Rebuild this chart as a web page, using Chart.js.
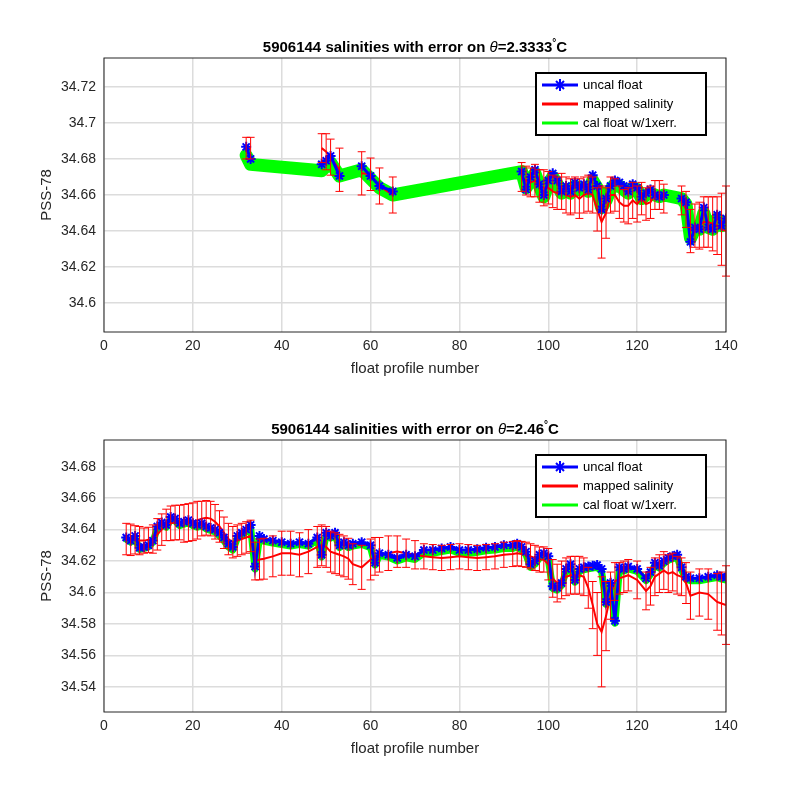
<!DOCTYPE html>
<html>
<head>
<meta charset="utf-8">
<script src="https://cdn.jsdelivr.net/npm/chart.js@4"></script>
<style>
  body { margin: 0; background: #fff; }
  .wrap { position: absolute; left: 0; width: 800px; height: 400px; }
</style>
</head>
<body>
<div class="wrap" style="top:0"><canvas id="top"></canvas></div>
<div class="wrap" style="top:400px"><canvas id="bottom"></canvas></div>
<script>
// ---- top panel: theta = 2.3333 C ----
const p1 = [32,33,49,50,51,53,58,60,62,65,
  94,95,96,97,98,99,100,101,102,103,104,105,106,107,108,109,110,111,112,113,114,115,116,117,118,119,120,121,122,123,124,125,126,
  130,131,132,133,134,135,136,137,138,139,140];
const b1 = [34.6867,34.680,34.677,34.679,34.6817,34.6706,34.676,34.6706,34.665,34.662,
  34.673,34.663,34.670,34.674,34.666,34.660,34.668,34.672,34.668,34.662,34.665,34.662,34.667,34.664,34.666,34.663,34.671,34.665,34.652,34.658,34.665,34.668,34.667,34.665,34.662,34.666,34.664,34.659,34.661,34.663,34.660,34.659,34.660,
  34.658,34.656,34.634,34.642,34.641,34.653,34.642,34.641,34.649,34.643,34.647];
const m1 = [34.686,34.686,34.686,34.684,34.681,34.674,34.672,34.6715,34.665,34.660,
  34.670,34.668,34.667,34.668,34.665,34.664,34.664,34.662,34.661,34.662,34.660,34.659,34.660,34.658,34.660,34.661,34.660,34.652,34.645,34.650,34.660,34.660,34.656,34.654,34.654,34.657,34.655,34.658,34.655,34.656,34.660,34.660,34.658,
  34.657,34.652,34.640,34.643,34.643,34.645,34.645,34.644,34.643,34.641,34.640];
const c1 = [34.682,34.677,34.6735,34.676,34.678,34.6705,34.674,34.669,34.664,34.660,
  34.673,34.664,34.668,34.672,34.665,34.659,34.666,34.670,34.666,34.661,34.663,34.661,34.665,34.663,34.664,34.662,34.668,34.664,34.653,34.657,34.663,34.666,34.665,34.663,34.661,34.664,34.663,34.658,34.660,34.661,34.660,34.659,34.660,
  34.658,34.655,34.636,34.641,34.641,34.650,34.642,34.641,34.647,34.643,34.645];
const e1 = [0.006,0.006,0.008,0.010,0.010,0.012,0.012,0.009,0.010,0.010,
  0.008,0.008,0.008,0.009,0.009,0.010,0.009,0.009,0.009,0.010,0.010,0.010,0.010,0.011,0.010,0.010,0.010,0.012,0.020,0.014,0.010,0.009,0.009,0.009,0.010,0.010,0.010,0.009,0.009,0.009,0.008,0.008,0.008,
  0.008,0.010,0.012,0.012,0.013,0.014,0.014,0.015,0.016,0.020,0.025];
const yTicks1 = [34.6,34.62,34.64,34.66,34.68,34.7,34.72];

// ---- bottom panel: theta = 2.46 C ----
const p2 = [5,6,7,8,9,10,11,12,13,14,15,16,17,18,19,20,21,22,23,24,25,26,27,28,29,30,31,32,33,34,35,36,38,40,42,44,46,48,49,50,
  51,52,53,54,55,56,58,60,61,62,64,66,68,70,72,74,76,78,80,82,84,86,88,90,92,93,94,95,96,97,98,99,100,
  101,102,103,104,105,106,107,108,109,110,111,112,113,114,115,116,117,118,120,122,123,124,125,126,127,128,129,130,131,132,134,136,138,139,140];
const b2 = [34.635,34.633,34.636,34.6285,34.629,34.630,34.633,34.642,34.6445,34.643,34.648,34.647,34.644,34.645,34.646,34.644,34.643,34.644,34.642,34.641,34.640,34.638,34.635,34.631,34.629,34.636,34.638,34.640,34.643,34.6165,34.636,34.634,34.633,34.632,34.631,34.632,34.631,34.635,34.624,34.638,
  34.636,34.638,34.630,34.632,34.630,34.631,34.632,34.630,34.619,34.625,34.624,34.622,34.624,34.623,34.627,34.627,34.628,34.629,34.627,34.627,34.6275,34.6285,34.629,34.630,34.630,34.631,34.629,34.626,34.618,34.620,34.624,34.625,34.623,
  34.604,34.603,34.606,34.615,34.618,34.608,34.615,34.616,34.6165,34.617,34.6175,34.615,34.594,34.606,34.582,34.616,34.615,34.6165,34.615,34.609,34.613,34.619,34.617,34.620,34.622,34.623,34.624,34.616,34.610,34.609,34.609,34.610,34.611,34.610,34.6095];
const m2 = [34.634,34.6335,34.6335,34.633,34.633,34.6335,34.634,34.637,34.640,34.643,34.644,34.6445,34.6445,34.644,34.6445,34.645,34.646,34.647,34.6475,34.647,34.645,34.642,34.638,34.634,34.632,34.633,34.634,34.635,34.636,34.620,34.621,34.6215,34.623,34.625,34.625,34.624,34.626,34.629,34.630,34.629,
  34.626,34.625,34.624,34.623,34.6215,34.618,34.616,34.621,34.623,34.624,34.625,34.626,34.625,34.624,34.623,34.6225,34.622,34.6225,34.623,34.6225,34.622,34.6225,34.623,34.624,34.6245,34.625,34.6245,34.624,34.623,34.622,34.621,34.621,34.618,
  34.609,34.606,34.608,34.610,34.611,34.611,34.611,34.610,34.603,34.592,34.580,34.575,34.585,34.598,34.607,34.609,34.610,34.611,34.608,34.601,34.604,34.610,34.612,34.614,34.612,34.613,34.611,34.610,34.606,34.598,34.600,34.599,34.594,34.593,34.592];
const c2 = [34.634,34.632,34.6345,34.6275,34.628,34.629,34.632,34.641,34.643,34.6415,34.6465,34.6455,34.6425,34.6435,34.6445,34.6425,34.6415,34.6425,34.6405,34.6395,34.6385,34.636,34.633,34.629,34.627,34.6345,34.6365,34.6385,34.6415,34.615,34.6345,34.6325,34.6315,34.6305,34.6295,34.6305,34.6295,34.6335,34.6225,34.6365,
  34.6345,34.6365,34.6285,34.6305,34.6285,34.6295,34.6305,34.6285,34.6175,34.6235,34.6225,34.620,34.622,34.621,34.625,34.625,34.626,34.627,34.625,34.625,34.6255,34.6265,34.627,34.628,34.628,34.629,34.627,34.624,34.616,34.618,34.622,34.623,34.621,
  34.6025,34.6015,34.6045,34.6135,34.6165,34.6065,34.6135,34.6145,34.615,34.6155,34.616,34.6135,34.5925,34.6045,34.5805,34.6145,34.6135,34.615,34.6135,34.6075,34.6115,34.6175,34.6155,34.6185,34.6205,34.6215,34.6225,34.6145,34.6085,34.6075,34.6075,34.6085,34.6095,34.6085,34.608];
const e2 = [0.010,0.010,0.009,0.009,0.008,0.008,0.009,0.010,0.010,0.010,0.011,0.011,0.011,0.012,0.012,0.012,0.012,0.011,0.011,0.011,0.011,0.010,0.010,0.010,0.010,0.010,0.010,0.010,0.010,0.012,0.013,0.013,0.013,0.014,0.014,0.014,0.014,0.013,0.013,0.013,
  0.013,0.013,0.013,0.013,0.013,0.013,0.014,0.013,0.012,0.011,0.011,0.010,0.009,0.009,0.008,0.008,0.008,0.008,0.008,0.008,0.008,0.008,0.008,0.008,0.008,0.008,0.008,0.008,0.008,0.008,0.008,0.008,0.010,
  0.012,0.012,0.012,0.012,0.012,0.012,0.012,0.012,0.013,0.015,0.020,0.035,0.022,0.015,0.012,0.010,0.010,0.010,0.012,0.012,0.012,0.012,0.012,0.012,0.012,0.012,0.012,0.012,0.013,0.015,0.015,0.016,0.018,0.020,0.025];
const yTicks2 = [34.54,34.56,34.58,34.6,34.62,34.64,34.66,34.68];
const xTicks = [0,20,40,60,80,100,120,140];

const FONT = '"Liberation Sans", Arial, sans-serif';

// break the line where profiles are missing (NaN gaps in the original)
function withGaps(px, vals) {
  const out = [];
  px.forEach((x, i) => {
    if (i > 0 && x - px[i - 1] > 3) out.push({ x: (x + px[i - 1]) / 2, y: null });
    out.push({ x, y: vals[i] });
  });
  return out;
}

const errorBars = {
  id: 'errorBars',
  afterDatasetsDraw(chart, args, opts) {
    const { ctx, scales: { x, y } } = chart;
    ctx.save();
    ctx.strokeStyle = '#ff0000';
    ctx.lineWidth = 1;
    opts.px.forEach((p, i) => {
      const xp = x.getPixelForValue(p);
      const y0 = y.getPixelForValue(opts.mid[i] - opts.err[i]);
      const y1 = y.getPixelForValue(opts.mid[i] + opts.err[i]);
      ctx.beginPath();
      ctx.moveTo(xp, y0); ctx.lineTo(xp, y1);
      ctx.moveTo(xp - 4, y0); ctx.lineTo(xp + 4, y0);
      ctx.moveTo(xp - 4, y1); ctx.lineTo(xp + 4, y1);
      ctx.stroke();
    });
    ctx.restore();
  }
};

const frame = {
  id: 'frame',
  afterDraw(chart, args, opts) {
    const { ctx, chartArea: a } = chart;
    ctx.save();
    ctx.strokeStyle = '#262626';
    ctx.lineWidth = 1;
    ctx.strokeRect(a.left, a.top, a.right - a.left, a.bottom - a.top);
    // title
    ctx.fillStyle = '#000';
    ctx.textBaseline = 'alphabetic';
    const parts = [['bold 15px ', '5906144 salinities with error on '], ['italic 15px ', 'θ'], ['bold 15px ', '=' + opts.theta], ['bold 10px ', '°'], ['bold 15px ', 'C']];
    let w = 0;
    parts.forEach(p => { ctx.font = p[0] + FONT; w += ctx.measureText(p[1]).width; });
    let xx = (a.left + a.right) / 2 - w / 2;
    parts.forEach(p => {
      ctx.font = p[0] + FONT;
      ctx.fillText(p[1], xx, a.top - (p[1] === '°' ? 12 : 6));
      xx += ctx.measureText(p[1]).width;
    });
    // legend
    const lx = a.right - 190, ly = a.top + 15, lw = 170, lh = 62;
    ctx.fillStyle = '#fff';
    ctx.fillRect(lx, ly, lw, lh);
    ctx.strokeStyle = '#000';
    ctx.lineWidth = 2;
    ctx.strokeRect(lx, ly, lw, lh);
    const items = [['uncal float', '#0000ff', true], ['mapped salinity', '#ff0000', false], ['cal float w/1xerr.', '#00ff00', false]];
    ctx.font = '13px ' + FONT;
    items.forEach((it, i) => {
      const yy = ly + 12 + i * 19;
      ctx.strokeStyle = it[1];
      ctx.lineWidth = 3;
      ctx.beginPath(); ctx.moveTo(lx + 6, yy); ctx.lineTo(lx + 42, yy); ctx.stroke();
      if (it[2]) {
        ctx.lineWidth = 2;
        ctx.beginPath();
        ctx.moveTo(lx + 20, yy - 4); ctx.lineTo(lx + 28, yy + 4);
        ctx.moveTo(lx + 20, yy + 4); ctx.lineTo(lx + 28, yy - 4);
        ctx.moveTo(lx + 24, yy - 6); ctx.lineTo(lx + 24, yy + 6);
        ctx.stroke();
      }
      ctx.fillStyle = '#000';
      ctx.textBaseline = 'middle';
      ctx.fillText(it[0], lx + 47, yy);
    });
    ctx.restore();
  }
};

function makeChart(id, px, blue, mapped, cal, err, yTicks, yMin, yMax, theta, padTop, padBottom, calWidth) {
  return new Chart(document.getElementById(id), {
    type: 'line',
    data: {
      datasets: [
        { data: px.map((x, i) => ({ x, y: cal[i] })), borderColor: '#00ff00', borderWidth: calWidth, borderJoinStyle: 'round', borderCapStyle: 'round', pointRadius: 0, order: 3 },
        { data: withGaps(px, mapped), borderColor: '#ff0000', borderWidth: 2, pointRadius: 0, spanGaps: false, order: 2 },
        { data: withGaps(px, blue), borderColor: '#0000ff', borderWidth: 3, spanGaps: false, pointStyle: 'star', pointRadius: 5, pointBorderWidth: 2, pointBorderColor: '#0000ff', pointBackgroundColor: '#0000ff', order: 1 }
      ]
    },
    options: {
      responsive: false,
      animation: false,
      layout: { padding: { left: 38, right: 74, top: padTop, bottom: padBottom } },
      plugins: {
        legend: { display: false },
        tooltip: { enabled: false },
        errorBars: { px, mid: mapped, err },
        frame: { theta }
      },
      scales: {
        x: {
          type: 'linear', min: 0, max: 140,
          afterBuildTicks: s => { s.ticks = xTicks.map(v => ({ value: v })); },
          afterFit: s => { s.height = 46; },
          grid: { color: '#dcdcdc', lineWidth: 1.5, tickLength: 0 },
          border: { display: false },
          ticks: { color: '#262626', font: { family: FONT, size: 14 }, padding: 6 },
          title: { display: true, text: 'float profile number', color: '#262626', font: { family: FONT, size: 15 }, padding: 0 }
        },
        y: {
          min: yMin, max: yMax,
          afterBuildTicks: s => { s.ticks = yTicks.map(v => ({ value: v })); },
          afterFit: s => { s.width = 66; },
          grid: { color: '#dcdcdc', lineWidth: 1.5, tickLength: 0 },
          border: { display: false },
          ticks: { color: '#262626', font: { family: FONT, size: 14 }, padding: 8, callback: v => String(+v.toFixed(2)) },
          title: { display: true, text: 'PSS-78', color: '#262626', font: { family: FONT, size: 15 }, padding: 0 }
        }
      }
    },
    plugins: [errorBars, frame]
  });
}

document.getElementById('top').width = 800; document.getElementById('top').height = 400;
document.getElementById('bottom').width = 800; document.getElementById('bottom').height = 400;
makeChart('top', p1, b1, m1, c1, e1, yTicks1, 34.584, 34.736, '2.3333', 58, 22, 13);
makeChart('bottom', p2, b2, m2, c2, e2, yTicks2, 34.524, 34.697, '2.46', 40, 42, 7);
</script>
</body>
</html>
